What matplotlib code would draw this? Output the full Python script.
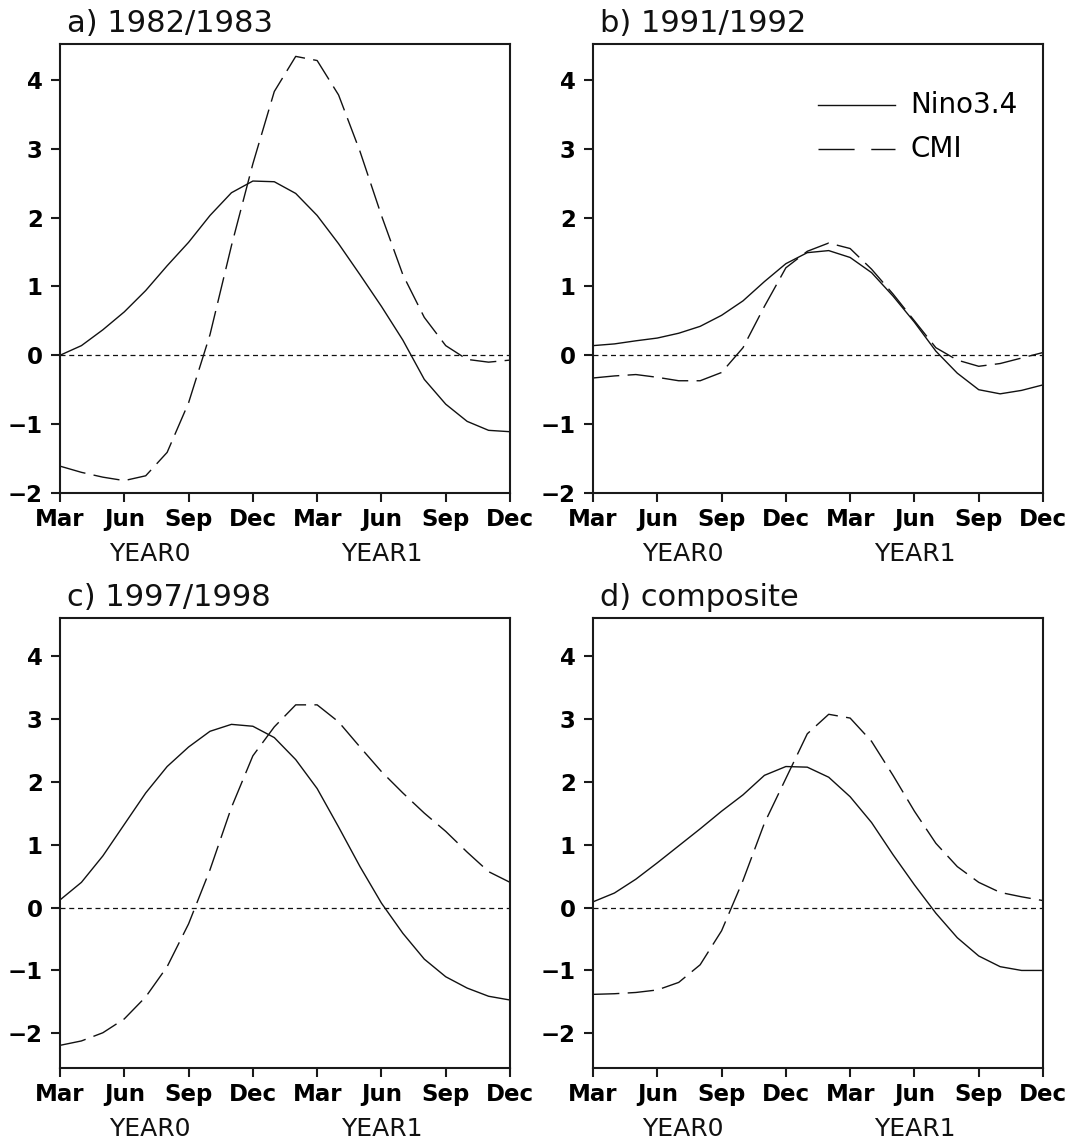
"""Nino3.4 vs CMI evolution for three El Nino events and their composite."""

import matplotlib
matplotlib.use("Agg")
import matplotlib.pyplot as plt

MONTHS = ["Mar", "Jun", "Sep", "Dec", "Mar", "Jun", "Sep", "Dec"]
TICK_POS = [0, 3, 6, 9, 12, 15, 18, 21]
MONTH_IDX = list(range(22))  # Mar YEAR0 .. Dec YEAR1

TITLES = ["a) 1982/1983", "b) 1991/1992", "c) 1997/1998", "d) composite"]

nino_a = [0.00, 0.14, 0.37, 0.63, 0.94, 1.30, 1.64, 2.03, 2.36, 2.53, 2.52,
          2.35, 2.03, 1.62, 1.17, 0.71, 0.22, -0.35, -0.71, -0.96, -1.09, -1.11]
cmi_a = [-1.61, -1.70, -1.77, -1.82, -1.75, -1.41, -0.69, 0.30, 1.59, 2.78, 3.83,
         4.34, 4.28, 3.78, 2.96, 2.03, 1.17, 0.55, 0.14, -0.06, -0.10, -0.07]

nino_b = [0.14, 0.165, 0.21, 0.25, 0.32, 0.42, 0.58, 0.79, 1.07, 1.33, 1.49,
          1.52, 1.42, 1.20, 0.86, 0.48, 0.06, -0.26, -0.50, -0.56, -0.51, -0.43]
cmi_b = [-0.33, -0.30, -0.28, -0.32, -0.37, -0.37, -0.25, 0.11, 0.71, 1.27, 1.51,
         1.63, 1.55, 1.25, 0.89, 0.50, 0.11, -0.07, -0.16, -0.12, -0.04, 0.04]

nino_c = [0.12, 0.40, 0.82, 1.32, 1.82, 2.24, 2.55, 2.80, 2.91, 2.88, 2.70,
          2.35, 1.89, 1.28, 0.65, 0.07, -0.41, -0.82, -1.10, -1.28, -1.41, -1.47]
cmi_c = [-2.19, -2.12, -1.99, -1.77, -1.42, -0.94, -0.26, 0.60, 1.59, 2.41, 2.87,
         3.22, 3.22, 2.95, 2.55, 2.16, 1.82, 1.50, 1.21, 0.88, 0.57, 0.40]

nino_d = [0.09, 0.23, 0.45, 0.71, 0.98, 1.25, 1.53, 1.79, 2.10, 2.24, 2.23,
          2.07, 1.76, 1.35, 0.84, 0.36, -0.09, -0.48, -0.77, -0.94, -1.00, -1.00]
cmi_d = [-1.38, -1.37, -1.35, -1.31, -1.19, -0.91, -0.37, 0.43, 1.34, 2.05, 2.76,
         3.07, 3.01, 2.64, 2.10, 1.53, 1.02, 0.65, 0.40, 0.24, 0.17, 0.11]

NINO = [nino_a, nino_b, nino_c, nino_d]
CMI = [cmi_a, cmi_b, cmi_c, cmi_d]
YLIMS = [(-2.0, 4.52), (-2.0, 4.52), (-2.55, 4.6), (-2.55, 4.6)]

W, H = 1069, 1141
# axes boxes in pixels: left, top, right, bottom
BOXES = [(60, 44, 510, 493), (593, 44, 1043, 493),
         (60, 618, 510, 1068), (593, 618, 1043, 1068)]

plt.rcParams["font.family"] = ["DejaVu Sans"]
plt.rcParams["axes.unicode_minus"] = True

fig = plt.figure(figsize=(W / 100, H / 100), dpi=100)

for k in range(4):
    l, t, r, b = BOXES[k]
    ax = fig.add_axes([l / W, 1 - b / H, (r - l) / W, (b - t) / H])
    ax.plot(MONTH_IDX, NINO[k], color="#111111", lw=1.0, label="Nino3.4")
    ax.plot(MONTH_IDX, CMI[k], color="#111111", lw=1.0,
            linestyle=(0, (19, 6)), label="CMI")
    ax.axhline(0, color="#111111", lw=0.9, linestyle=(0, (4, 3)))

    ax.set_xlim(0, 21)
    ax.set_ylim(*YLIMS[k])
    ax.set_xticks(TICK_POS)
    ax.set_xticklabels(MONTHS)
    ax.set_yticks(range(-2, 5))
    for sp in ax.spines.values():
        sp.set_linewidth(1.5)
        sp.set_color("#1a1a1a")
    ax.tick_params(direction="out", length=6.5, width=1.5, color="#1a1a1a",
                   labelsize=16.5, pad=4)
    ax.tick_params(axis="y", pad=6)
    for lab in ax.get_xticklabels() + ax.get_yticklabels():
        lab.set_fontweight("bold")

    ax.text(0.016, 1.026, TITLES[k], transform=ax.transAxes, fontsize=22,
            ha="left", va="baseline", color="#111111")
    ax.text(4.2, -0.135, "YEAR0", transform=ax.get_xaxis_transform(),
            fontsize=18, ha="center", va="center", color="#111111")
    ax.text(15.0, -0.135, "YEAR1", transform=ax.get_xaxis_transform(),
            fontsize=18, ha="center", va="center", color="#111111")

    if k == 1:
        # hand-placed legend like the original
        ax.plot([10.5, 14.1], [3.64, 3.64], color="#111111", lw=1.0)
        ax.plot([10.5, 14.1], [3.0, 3.0], color="#111111", lw=1.0,
                linestyle=(0, (26, 12)))
        ax.text(14.8, 3.64, "Nino3.4", fontsize=20, va="center", ha="left")
        ax.text(14.8, 3.0, "CMI", fontsize=20, va="center", ha="left")

fig.savefig("out.png", dpi=100)
